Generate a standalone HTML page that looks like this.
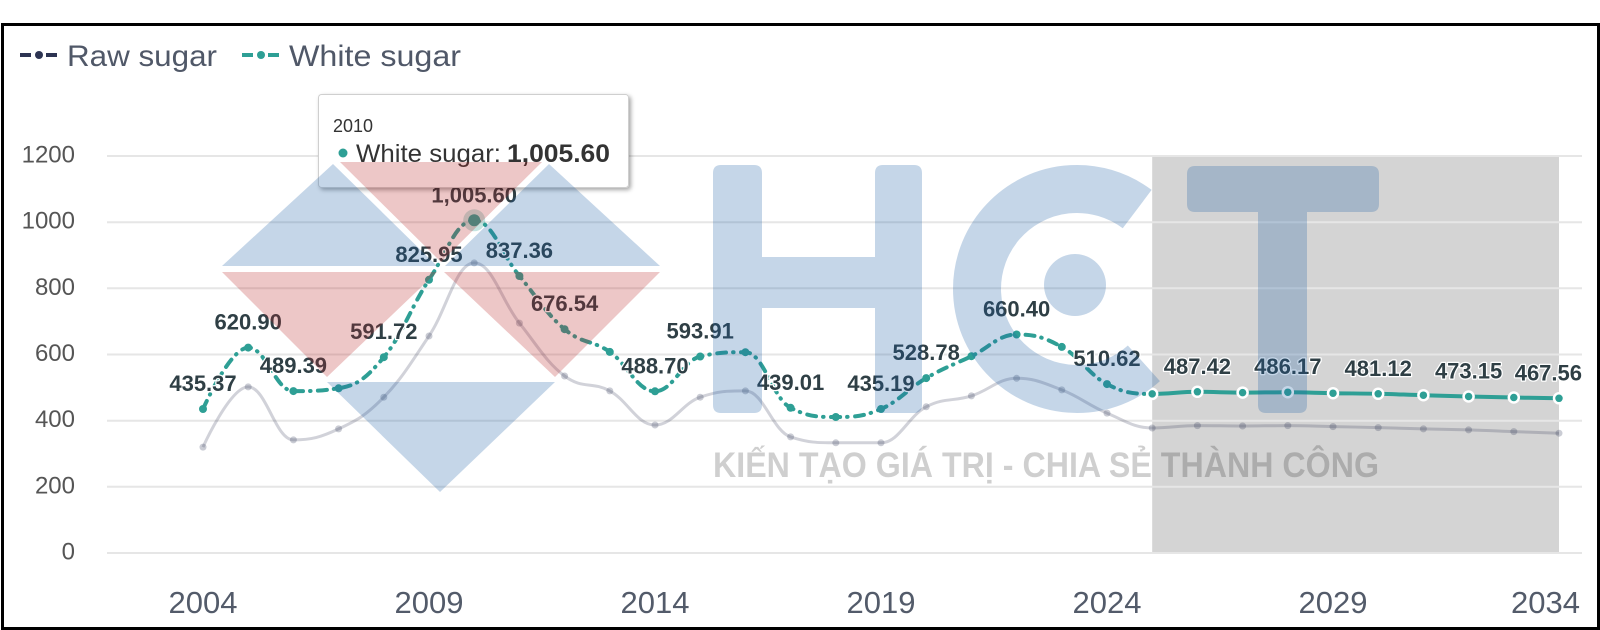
<!DOCTYPE html>
<html><head><meta charset="utf-8">
<style>
html,body{margin:0;padding:0;background:#fff;}
svg{display:block;font-family:"Liberation Sans",Arial,sans-serif;}
</style></head>
<body>
<svg width="1600" height="630" viewBox="0 0 1600 630" xmlns="http://www.w3.org/2000/svg">
<defs>
<filter id="sh" x="-10%" y="-20%" width="125%" height="150%">
<feDropShadow dx="2" dy="2" stdDeviation="2" flood-color="#000" flood-opacity="0.35"/>
</filter>
</defs>
<rect width="1600" height="630" fill="#fff"/>

<!-- forecast band -->
<rect x="1152.2" y="156" width="406.8" height="397" fill="#d4d4d4"/>

<!-- gridlines -->
<g stroke="#e6e6e6" stroke-width="2">
<line x1="107" x2="1582" y1="156" y2="156"/>
<line x1="107" x2="1582" y1="222.2" y2="222.2"/>
<line x1="107" x2="1582" y1="288.3" y2="288.3"/>
<line x1="107" x2="1582" y1="354.5" y2="354.5"/>
<line x1="107" x2="1582" y1="420.7" y2="420.7"/>
<line x1="107" x2="1582" y1="486.8" y2="486.8"/>
<line x1="107" x2="1582" y1="553" y2="553"/>
</g>

<!-- y axis labels -->
<g font-size="24" fill="#555" text-anchor="end">
<text x="75" y="162.5">1200</text>
<text x="75" y="228.7">1000</text>
<text x="75" y="294.8">800</text>
<text x="75" y="361">600</text>
<text x="75" y="427.2">400</text>
<text x="75" y="493.3">200</text>
<text x="75" y="559.5">0</text>
</g>

<!-- x axis labels -->
<g font-size="31" fill="#535b6a" text-anchor="middle">
<text x="203" y="613">2004</text>
<text x="429" y="613">2009</text>
<text x="655" y="613">2014</text>
<text x="881" y="613">2019</text>
<text x="1107" y="613">2024</text>
<text x="1333" y="613">2029</text>
<text x="1580" y="613" text-anchor="end">2034</text>
</g>

<!-- legend -->
<g>
<rect x="20" y="53" width="11" height="4" fill="#2d3452"/>
<circle cx="39" cy="55" r="4" fill="#2d3452"/>
<rect x="46" y="53" width="11" height="4" fill="#2d3452"/>
<text x="67" y="66" font-size="30" fill="#505868" textLength="150" lengthAdjust="spacingAndGlyphs">Raw sugar</text>
<rect x="242" y="53" width="11" height="4" fill="#2e9f95"/>
<circle cx="261" cy="55" r="4" fill="#2e9f95"/>
<rect x="268" y="53" width="11" height="4" fill="#2e9f95"/>
<text x="289" y="66" font-size="30" fill="#505868" textLength="172" lengthAdjust="spacingAndGlyphs">White sugar</text>
</g>

<!-- Raw sugar series (faded) -->
<path fill="none" stroke="#2d3452" stroke-opacity="0.22" stroke-width="3" d="M203,447.1
C203,447.1 230.1,386.9 248.2,386.9
C266.3,386.9 275.3,439.9 293.4,439.9
C311.5,439.9 320.5,437.4 338.6,428.9
C356.7,420.4 365.7,415.8 383.8,397.2
C401.9,378.6 410.9,362.9 429,336
C447.1,309.1 456.1,262.9 474.2,262.9
C492.3,262.9 501.3,300.5 519.4,323.1
C537.5,345.7 546.5,362.4 564.6,376
C582.7,389.6 591.7,381.1 609.8,390.9
C627.9,400.7 636.9,425 655,425
C673.1,425 682.1,403.5 700.2,397.2
C718.3,390.9 727.3,390.9 745.4,390.9
C763.5,390.9 772.5,431 790.6,436.9
C808.7,442.8 817.7,442.8 835.8,442.8
C853.9,442.8 862.9,442.8 881,442.8
C899.1,442.8 908.1,416.2 926.2,406.8
C944.3,397.4 953.3,401.6 971.4,395.9
C989.5,390.2 998.5,378.3 1016.6,378.3
C1034.7,378.3 1043.7,382.9 1061.8,389.9
C1079.9,396.9 1088.9,405.5 1107,413.1
C1125.1,420.7 1134.1,428 1152.2,428
C1170.3,428 1179.3,425.6 1197.4,425.6
C1215.5,425.6 1224.5,426 1242.6,426
C1260.7,426 1269.7,425.6 1287.8,425.6
C1305.9,425.6 1314.9,426.2 1333,426.6
C1351.1,427 1360.1,427.1 1378.2,427.6
C1396.3,428.1 1405.3,428.4 1423.4,428.9
C1441.5,429.4 1450.5,429.4 1468.6,429.9
C1486.7,430.4 1495.7,430.9 1513.8,431.6
C1531.9,432.3 1559,433.2 1559,433.2"/>
<g fill="#2d3452" fill-opacity="0.25">
<circle cx="203" cy="447.1" r="3.5"/><circle cx="248.2" cy="386.9" r="3.5"/><circle cx="293.4" cy="439.9" r="3.5"/><circle cx="338.6" cy="428.9" r="3.5"/><circle cx="383.8" cy="397.2" r="3.5"/><circle cx="429" cy="336" r="3.5"/><circle cx="474.2" cy="262.9" r="3.5"/><circle cx="519.4" cy="323.1" r="3.5"/><circle cx="564.6" cy="376" r="3.5"/><circle cx="609.8" cy="390.9" r="3.5"/><circle cx="655" cy="425" r="3.5"/><circle cx="700.2" cy="397.2" r="3.5"/><circle cx="745.4" cy="390.9" r="3.5"/><circle cx="790.6" cy="436.9" r="3.5"/><circle cx="835.8" cy="442.8" r="3.5"/><circle cx="881" cy="442.8" r="3.5"/><circle cx="926.2" cy="406.8" r="3.5"/><circle cx="971.4" cy="395.9" r="3.5"/><circle cx="1016.6" cy="378.3" r="3.5"/><circle cx="1061.8" cy="389.9" r="3.5"/><circle cx="1107" cy="413.1" r="3.5"/><circle cx="1152.2" cy="428" r="3.5"/><circle cx="1197.4" cy="425.6" r="3.5"/><circle cx="1242.6" cy="426" r="3.5"/><circle cx="1287.8" cy="425.6" r="3.5"/><circle cx="1333" cy="426.6" r="3.5"/><circle cx="1378.2" cy="427.6" r="3.5"/><circle cx="1423.4" cy="428.9" r="3.5"/><circle cx="1468.6" cy="429.9" r="3.5"/><circle cx="1513.8" cy="431.6" r="3.5"/><circle cx="1559" cy="433.2" r="3.5"/>
</g>

<!-- White sugar series: historical (dash-dot) -->
<path fill="none" stroke="#2e9f95" stroke-width="4" stroke-linecap="round" stroke-dasharray="9 7 0.5 7.5" d="M203,409
C203,409 230.1,347.6 248.2,347.6
C266.3,347.6 275.3,391.1 293.4,391.1
C311.5,391.1 320.5,391.1 338.6,388.3
C356.7,385.5 365.7,378.9 383.8,357.2
C401.9,335.5 410.9,307.2 429,279.8
C447.1,252.4 456.1,220.3 474.2,220.3
C492.3,220.3 501.3,254.2 519.4,276
C537.5,297.8 546.5,314 564.6,329.2
C582.7,344.4 591.7,339.5 609.8,351.9
C627.9,364.3 636.9,391.3 655,391.3
C673.1,391.3 682.1,360.8 700.2,356.5
C718.3,352.2 727.3,352.2 745.4,352.2
C763.5,352.2 772.5,398.6 790.6,407.8
C808.7,417 817.7,417 835.8,417
C853.9,417 862.9,416.8 881,409
C899.1,401.2 908.1,388.7 926.2,378.1
C944.3,367.5 953.3,364.9 971.4,356.2
C989.5,347.5 998.5,334.5 1016.6,334.5
C1034.7,334.5 1043.7,337 1061.8,346.9
C1079.9,356.8 1088.9,374.7 1107,384.1
C1125.1,393.5 1134.1,393.9 1152.2,393.9"/>
<!-- White sugar series: forecast (solid) -->
<path fill="none" stroke="#2e9f95" stroke-width="4" d="M1152.2,393.9
C1170.3,393.9 1179.3,391.8 1197.4,391.8
C1215.5,391.8 1224.5,392.6 1242.6,392.6
C1260.7,392.6 1269.7,392.2 1287.8,392.2
C1305.9,392.2 1314.9,392.9 1333,393.2
C1351.1,393.5 1360.1,393.4 1378.2,393.8
C1396.3,394.2 1405.3,394.7 1423.4,395.2
C1441.5,395.7 1450.5,396 1468.6,396.5
C1486.7,397 1495.7,397.1 1513.8,397.5
C1531.9,397.9 1559,398.3 1559,398.3"/>

<!-- White sugar markers -->
<g fill="#2e9f95">
<circle cx="203" cy="409" r="4"/><circle cx="248.2" cy="347.6" r="4"/><circle cx="293.4" cy="391.1" r="4"/><circle cx="338.6" cy="388.3" r="4"/><circle cx="383.8" cy="357.2" r="4"/><circle cx="429" cy="279.8" r="4"/><circle cx="519.4" cy="276" r="4"/><circle cx="564.6" cy="329.2" r="4"/><circle cx="609.8" cy="351.9" r="4"/><circle cx="655" cy="391.3" r="4"/><circle cx="700.2" cy="356.5" r="4"/><circle cx="745.4" cy="352.2" r="4"/><circle cx="790.6" cy="407.8" r="4"/><circle cx="835.8" cy="417" r="4"/><circle cx="881" cy="409" r="4"/><circle cx="926.2" cy="378.1" r="4"/><circle cx="971.4" cy="356.2" r="4"/><circle cx="1016.6" cy="334.5" r="4"/><circle cx="1061.8" cy="346.9" r="4"/><circle cx="1107" cy="384.1" r="4"/>
</g>
<g fill="#2e9f95" stroke="#fff" stroke-width="2.5">
<circle cx="1152.2" cy="393.9" r="5"/><circle cx="1197.4" cy="391.8" r="5"/><circle cx="1242.6" cy="392.6" r="5"/><circle cx="1287.8" cy="392.2" r="5"/><circle cx="1333" cy="393.2" r="5"/><circle cx="1378.2" cy="393.8" r="5"/><circle cx="1423.4" cy="395.2" r="5"/><circle cx="1468.6" cy="396.5" r="5"/><circle cx="1513.8" cy="397.5" r="5"/><circle cx="1559" cy="398.3" r="5"/>
</g>
<!-- hover point 2010 -->
<circle cx="474.2" cy="220.3" r="11" fill="#2e9f95" fill-opacity="0.28"/>
<circle cx="474.2" cy="220.3" r="6" fill="#2e9f95"/>

<!-- data labels -->
<g font-size="22" font-weight="bold" fill="#2f3f45" stroke="#fff" stroke-width="2.5" paint-order="stroke" stroke-linejoin="round" text-anchor="middle">
<text x="203" y="391">435.37</text>
<text x="248.2" y="329.6">620.90</text>
<text x="293.4" y="373.1">489.39</text>
<text x="383.8" y="339.2">591.72</text>
<text x="429" y="261.8">825.95</text>
<text x="474.2" y="202.3">1,005.60</text>
<text x="519.4" y="258">837.36</text>
<text x="564.6" y="311.2">676.54</text>
<text x="655" y="373.3">488.70</text>
<text x="700.2" y="338.5">593.91</text>
<text x="790.6" y="389.8">439.01</text>
<text x="881" y="391">435.19</text>
<text x="926.2" y="360.1">528.78</text>
<text x="1016.6" y="316.5">660.40</text>
<text x="1107" y="366.1">510.62</text>
<text x="1197.4" y="373.8">487.42</text>
<text x="1287.8" y="374.2">486.17</text>
<text x="1378.2" y="375.8">481.12</text>
<text x="1468.6" y="378.5">473.15</text>
<text x="1582" y="380.3" text-anchor="end">467.56</text>
</g>

<!-- tooltip -->
<rect x="318.5" y="94.5" width="310" height="93" rx="3" fill="#fff" stroke="#cfcfcf" stroke-width="1" filter="url(#sh)"/>
<text x="333" y="132" font-size="18" fill="#333">2010</text>
<circle cx="343" cy="153" r="4.5" fill="#2e9f95"/>
<text x="356" y="162" font-size="25" fill="#333" textLength="145" lengthAdjust="spacingAndGlyphs">White sugar:</text>
<text x="507" y="162" font-size="25" font-weight="bold" fill="#333" textLength="103" lengthAdjust="spacingAndGlyphs">1,005.60</text>

<!-- watermark logo triangles -->
<g fill="rgb(32,95,165)" fill-opacity="0.26">
<polygon points="333,164 222,266 437,266"/>
<polygon points="549,164 445,266 660,266"/>
<polygon points="327,382 555,382 440,492"/>
</g>
<g fill="rgb(186,40,40)" fill-opacity="0.26">
<polygon points="340,162 542,162 441,262"/>
<polygon points="222,272 437,272 327,377"/>
<polygon points="444,272 660,272 555,377"/>
</g>

<!-- watermark HCT -->
<g fill="rgb(32,95,165)" fill-opacity="0.26">
<path d="M713,173 q0,-8 8,-8 h33 q8,0 8,8 v84 h113 v-84 q0,-8 8,-8 h31 q8,0 8,8 v232 q0,8 -8,8 h-31 q-8,0 -8,-8 v-97 h-113 v97 q0,8 -8,8 h-33 q-8,0 -8,-8 z"/>
<circle cx="1075" cy="285" r="31"/>
<path d="M1195,166 h176 q8,0 8,8 v30 q0,8 -8,8 h-64 v193 q0,8 -8,8 h-33 q-8,0 -8,-8 v-193 h-63 q-8,0 -8,-8 v-30 q0,-8 8,-8 z"/>
</g>
<path d="M1137.2,209.1 A100,100 0 1 0 1143.9,363.3" fill="none" stroke="rgb(32,95,165)" stroke-opacity="0.26" stroke-width="48"/>
<text x="713" y="477" font-size="35" font-weight="bold" fill="#000" fill-opacity="0.19" textLength="666" lengthAdjust="spacingAndGlyphs">KIẾN TẠO GIÁ TRỊ - CHIA SẺ THÀNH CÔNG</text>

<!-- frame -->
<rect x="2.5" y="24.5" width="1596" height="604" fill="none" stroke="#000" stroke-width="3"/>
</svg>
</body></html>
